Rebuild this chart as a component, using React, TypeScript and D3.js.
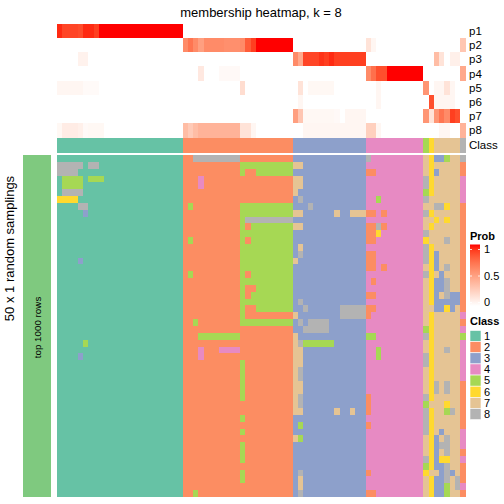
import React from "react";
import * as d3 from "d3";

const TITLE = "membership heatmap, k = 8";
const ROW_TITLE = "50 x 1 random samplings";
const SLICE_LABEL = "top 1000 rows";
const PROB_NAMES = ["p1", "p2", "p3", "p4", "p5", "p6", "p7", "p8"];
const CLASS_LABELS = ["1", "2", "3", "4", "5", "6", "7", "8"];
const CLASS_COLORS = ["#66C2A5", "#FC8D62", "#8DA0CB", "#E78AC3", "#A6D854", "#FFD92F", "#E5C494", "#B3B3B3"];
const SLICE_COLOR = "#7FC97F";
const PROB_BREAKS = [0, 0.5, 1];
const PROB_BREAK_LABELS = ["0", "0.5", "1"];
const N_SAMPLINGS = 50;

// consensus class of each column (sample)
const COLUMN_CLASS = "111111111111111111111111" + "222222222222222222222" + "33333333333333" + "44444444444" + "5" + "6" + "77777" + "8";

// class assigned in each random sampling where it differs from the consensus: [row, firstCol, lastCol, class]
const SAMPLING_DEVIATIONS: [number, number, number, number][] = [
  [0,26,34,8],[0,59,59,8],[0,70,70,7],[0,72,73,3],[0,74,74,5],
  [1,0,4,8],[1,6,7,8],[1,35,44,5],[1,45,46,7],[1,70,70,7],[1,77,77,2],
  [2,0,3,8],[2,35,35,5],[2,38,44,5],[2,59,60,2],[2,70,70,7],[2,72,72,3],[2,77,77,2],
  [3,1,4,5],[3,6,8,5],[3,27,27,4],[3,45,46,7],[3,70,70,8],[3,77,77,4],
  [4,1,4,5],[4,27,27,4],[4,45,46,7],[4,70,70,8],[4,77,77,4],
  [5,1,4,8],[5,45,45,7],[5,77,77,4],
  [6,0,3,6],[6,46,46,8],[6,61,61,5],[6,70,70,8],[6,71,71,7],[6,77,77,4],
  [7,4,5,8],[7,25,25,5],[7,35,44,5],[7,48,48,8],[7,70,71,7],[7,72,73,8],[7,74,74,6],[7,77,77,2],
  [8,5,5,3],[8,35,44,5],[8,45,46,7],[8,53,53,7],[8,56,58,7],[8,59,60,2],[8,62,62,2],[8,70,70,8],[8,77,77,2],
  [9,35,35,5],[9,36,44,8],[9,70,71,7],[9,72,72,6],[9,74,74,6],[9,77,77,2],
  [10,35,35,5],[10,37,44,5],[10,45,46,7],[10,59,60,2],[10,61,61,8],[10,62,62,2],[10,70,70,7],[10,77,77,2],
  [11,35,44,5],[11,59,60,2],[11,61,61,6],[11,70,70,8],[11,71,71,7],[11,77,77,2],
  [12,25,25,5],[12,35,35,5],[12,37,44,5],[12,59,60,2],[12,70,70,6],[12,71,71,7],[12,74,74,8],[12,77,77,2],
  [13,35,44,5],[13,46,46,7],[13,70,70,8],[13,77,77,2],
  [14,35,44,5],[14,46,46,8],[14,59,60,2],[14,70,70,8],[14,72,72,3],[14,77,77,2],
  [15,4,4,3],[15,35,44,5],[15,45,45,7],[15,59,60,2],[15,70,70,8],[15,72,72,3],[15,77,77,2],
  [16,35,44,5],[16,59,60,2],[16,62,62,2],[16,70,70,7],[16,72,72,3],[16,74,74,8],[16,77,77,2],
  [17,25,25,5],[17,35,35,5],[17,37,44,5],[17,70,70,8],[17,73,73,3],[17,77,77,2],
  [18,35,44,5],[18,60,60,2],[18,70,70,7],[18,72,73,3],[18,74,74,8],[18,77,77,2],
  [19,35,35,5],[19,38,44,5],[19,70,70,7],[19,72,73,3],[19,74,74,8],[19,77,77,2],
  [20,35,35,5],[20,37,44,5],[20,59,60,2],[20,70,70,7],[20,72,72,3],[20,74,74,8],[20,75,76,3],[20,77,77,2],
  [21,35,44,5],[21,46,46,8],[21,70,70,7],[21,72,76,3],[21,77,77,2],
  [22,35,35,5],[22,38,44,5],[22,47,47,8],[22,54,58,8],[22,59,60,2],[22,70,71,7],[22,72,73,3],[22,74,74,6],[22,75,75,3],[22,77,77,2],
  [23,35,35,5],[23,45,45,7],[23,54,58,8],[23,59,59,2],[23,70,70,7],[23,77,77,4],
  [24,26,26,5],[24,35,44,5],[24,46,46,8],[24,48,51,8],[24,70,70,7],[24,77,77,2],
  [25,47,51,8],[25,77,77,4],
  [26,27,34,5],[26,45,45,7],[26,59,60,5],[26,70,70,8],[26,77,77,5],
  [27,5,5,5],[27,45,45,7],[27,46,46,8],[27,47,52,5],[27,70,70,7],[27,77,77,4],
  [28,27,27,4],[28,31,34,4],[28,45,46,7],[28,61,61,5],[28,70,70,7],[28,74,74,8],[28,77,77,4],
  [29,4,4,3],[29,27,27,4],[29,45,46,7],[29,61,61,5],[29,70,70,8],[29,77,77,4],
  [30,35,35,5],[30,45,46,7],[30,70,70,8],[30,77,77,4],
  [31,35,35,5],[31,45,45,7],[31,46,46,8],[31,70,70,7],[31,77,77,4],
  [32,35,35,5],[32,45,45,7],[32,46,46,8],[32,70,70,7],[32,77,77,4],
  [33,35,35,5],[33,45,46,7],[33,70,70,7],[33,72,72,8],[33,74,74,8],[33,77,77,2],
  [34,35,35,5],[34,45,46,7],[34,70,70,7],[34,72,72,8],[34,74,74,8],[34,77,77,2],
  [35,35,35,5],[35,45,45,7],[35,46,46,8],[35,59,59,2],[35,70,70,8],[35,77,77,2],
  [36,45,45,7],[36,46,46,8],[36,59,59,2],[36,71,71,7],[36,74,74,6],[36,77,77,2],
  [37,45,46,7],[37,53,53,7],[37,56,56,7],[37,59,59,2],[37,70,70,8],[37,74,74,5],[37,75,75,8],[37,77,77,2],
  [38,35,35,5],[38,70,70,8],[38,77,77,2],
  [39,46,46,5],[39,59,59,2],[39,70,70,8],[39,77,77,2],
  [40,35,35,5],[40,70,70,8],[40,73,73,3],[40,77,77,4],
  [41,45,45,7],[41,46,46,5],[41,70,70,7],[41,72,72,3],[41,74,74,8],[41,77,77,4],
  [42,35,35,5],[42,70,70,7],[42,72,72,3],[42,73,74,8],[42,77,77,4],
  [43,35,35,5],[43,70,70,7],[43,72,72,3],[43,74,74,8],[43,77,77,2],
  [44,35,35,5],[44,70,70,8],[44,72,72,3],[44,73,74,6],[44,77,77,4],
  [45,72,73,3],[45,74,74,8],[45,77,77,2],
  [46,35,35,5],[46,46,46,8],[46,59,59,2],[46,70,70,6],[46,71,71,7],[46,73,73,3],[46,74,74,8],[46,75,75,3],[46,77,77,2],
  [47,35,35,5],[47,46,46,7],[47,70,70,7],[47,72,73,3],[47,74,74,8],[47,76,76,8],[47,77,77,2],
  [48,46,46,7],[48,70,70,7],[48,72,73,3],[48,74,74,5],[48,76,76,8],[48,77,77,4],
  [49,26,26,5],[49,46,46,8],[49,59,60,2],[49,70,70,7],[49,72,73,3],[49,74,74,5],[49,77,77,2],
];

// membership probabilities (non-zero runs): [firstCol, lastCol, probability]
const P1: [number, number, number][] = [[0,0,0.95],[1,3,0.88],[4,4,0.86],[5,6,0.95],[7,7,0.9],[8,23,1]];
const P2: [number, number, number][] = [[24,24,0.6],[25,25,0.7],[26,26,0.6],[27,27,0.5],[28,31,0.6],[32,34,0.58],[35,35,0.6],[36,36,0.8],[37,37,0.9],[38,44,1],[59,59,0.15],[60,60,0.05],[77,77,0.3]];
const P3: [number, number, number][] = [[4,5,0.07],[45,45,0.6],[46,46,0.45],[47,49,0.88],[50,50,0.93],[51,51,0.9],[52,52,0.95],[53,53,0.9],[54,58,0.9],[72,72,0.35],[73,73,0.15],[75,76,0.08]];
const P4: [number, number, number][] = [[27,27,0.12],[31,34,0.03],[59,59,0.6],[60,60,0.72],[61,62,0.85],[63,69,1],[77,77,0.45]];
const P5: [number, number, number][] = [[0,4,0.05],[5,7,0.025],[35,35,0.18],[46,46,0.15],[48,52,0.04],[61,61,0.05],[70,70,0.55],[72,73,0.05],[74,74,0.15],[75,75,0.05]];
const P6: [number, number, number][] = [[46,46,0.05],[61,61,0.05],[71,71,0.85],[72,75,0.05]];
const P7: [number, number, number][] = [[45,45,0.5],[46,46,0.3],[47,52,0.04],[53,53,0.03],[55,58,0.05],[70,70,0.55],[71,71,0.15],[72,72,0.55],[73,73,0.7],[74,74,0.6],[75,75,0.9],[76,76,0.85]];
const P8: [number, number, number][] = [[0,0,0.04],[1,3,0.1],[4,4,0.08],[5,5,0.03],[6,8,0.04],[24,24,0.35],[25,25,0.28],[26,26,0.35],[27,34,0.4],[35,36,0.15],[37,37,0.05],[47,58,0.05],[59,60,0.25],[61,61,0.05],[73,74,0.05],[77,77,0.4]];
const PROB_RUNS = [P1, P2, P3, P4, P5, P6, P7, P8];

const FONT = "'Liberation Sans', Arial, Helvetica, sans-serif";

export default function App() {
  const nCol = COLUMN_CLASS.length;
  const cols = d3.range(nCol);
  const x = d3.scaleBand<number>().domain(cols).range([57, 465.2]);
  const y = d3.scaleBand<number>().domain(d3.range(N_SAMPLINGS)).range([155, 497]);
  const py = d3.scaleBand<string>().domain(PROB_NAMES).range([24, 137.3]);
  const classColor = d3.scaleOrdinal<string, string>().domain(CLASS_LABELS).range(CLASS_COLORS);
  const probColor = d3.scaleLinear<string>().domain([0, 1]).range(["#FFFFFF", "#FF0000"]).interpolate(d3.interpolateLab);

  const matrix = d3.range(N_SAMPLINGS).map(() => COLUMN_CLASS.split(""));
  SAMPLING_DEVIATIONS.forEach(([r, a, b, c]) => {
    for (let j = a; j <= b; j++) matrix[r][j] = String(c);
  });
  const probMatrix = PROB_RUNS.map((runs) => {
    const v = cols.map(() => 0);
    runs.forEach(([a, b, val]) => {
      for (let j = a; j <= b; j++) v[j] = val;
    });
    return v;
  });

  const bw = x.bandwidth();
  const legendY = d3.scaleLinear().domain([0, 1]).range([302.5, 249.5]);
  const legendBarTop = 244.5;
  const legendBarBottom = 306;
  const legendSq = d3.scaleBand<string>().domain(CLASS_LABELS).range([330.5, 419.6]);
  const gradStops = d3.range(0, 1.0001, 0.1);

  return (
    <svg width={504} height={504} style={{ position: "absolute", left: 0, top: 0, background: "#fff" }} fontFamily={FONT}>
      <defs>
        <linearGradient id="probGrad" x1="0" y1="1" x2="0" y2="0">
          {gradStops.map((t) => (
            <stop key={t} offset={`${t * 100}%`} stopColor={probColor(t)} />
          ))}
        </linearGradient>
      </defs>
      <rect x={0} y={0} width={504} height={504} fill="#fff" />
      <text x={261} y={17} textAnchor="middle" fontSize={13}>{TITLE}</text>

      {/* probability annotation */}
      <g shapeRendering="crispEdges">
        {probMatrix.map((row, i) =>
          row.map((v, j) => (
            <rect key={`p${i}-${j}`} x={x(j)} y={py(PROB_NAMES[i])} width={bw + 0.3} height={py.bandwidth() + 0.3} fill={probColor(v)} />
          ))
        )}
        {cols.map((j) => (
          <rect key={`c${j}`} x={x(j)} y={138} width={bw + 0.3} height={14.7} fill={classColor(COLUMN_CLASS[j])} />
        ))}
      </g>
      {PROB_NAMES.map((n) => (
        <text key={n} x={469} y={(py(n) as number) + py.bandwidth() / 2} dy="0.35em" fontSize={11.5}>{n}</text>
      ))}
      <text x={469} y={145.3} dy="0.35em" fontSize={11.5}>Class</text>

      {/* main heatmap */}
      <g shapeRendering="crispEdges">
        {matrix.map((row, i) =>
          row.map((c, j) => (
            <rect key={`m${i}-${j}`} x={x(j)} y={y(i)} width={bw + 0.3} height={y.bandwidth() + 0.3} fill={classColor(c)} />
          ))
        )}
      </g>

      {/* row slice annotation */}
      <rect x={23} y={155} width={28} height={342} fill={SLICE_COLOR} />
      <text transform={`translate(40.5,327.5) rotate(-90)`} textAnchor="middle" fontSize={9.8}>{SLICE_LABEL}</text>
      <text transform={`translate(14,248.5) rotate(-90)`} textAnchor="middle" fontSize={13}>{ROW_TITLE}</text>

      {/* Prob legend */}
      <text x={470} y={240} fontSize={11} fontWeight="bold">Prob</text>
      <rect x={470} y={legendBarTop} width={10} height={legendBarBottom - legendBarTop} fill="url(#probGrad)" />
      {PROB_BREAKS.map((b, i) => (
        <g key={b}>
          <line x1={470} x2={472} y1={legendY(b)} y2={legendY(b)} stroke="#fff" strokeWidth={0.8} />
          <line x1={478} x2={480} y1={legendY(b)} y2={legendY(b)} stroke="#fff" strokeWidth={0.8} />
          <text x={484} y={legendY(b)} dy="0.35em" fontSize={11}>{PROB_BREAK_LABELS[i]}</text>
        </g>
      ))}

      {/* Class legend */}
      <text x={470} y={325} fontSize={11} fontWeight="bold">Class</text>
      {CLASS_LABELS.map((c) => (
        <g key={c}>
          <rect x={470} y={legendSq(c)} width={11} height={legendSq.bandwidth()} fill={classColor(c)} stroke="#fff" strokeWidth={0.6} />
          <text x={484} y={(legendSq(c) as number) + legendSq.bandwidth() / 2} dy="0.35em" fontSize={11}>{c}</text>
        </g>
      ))}
    </svg>
  );
}
